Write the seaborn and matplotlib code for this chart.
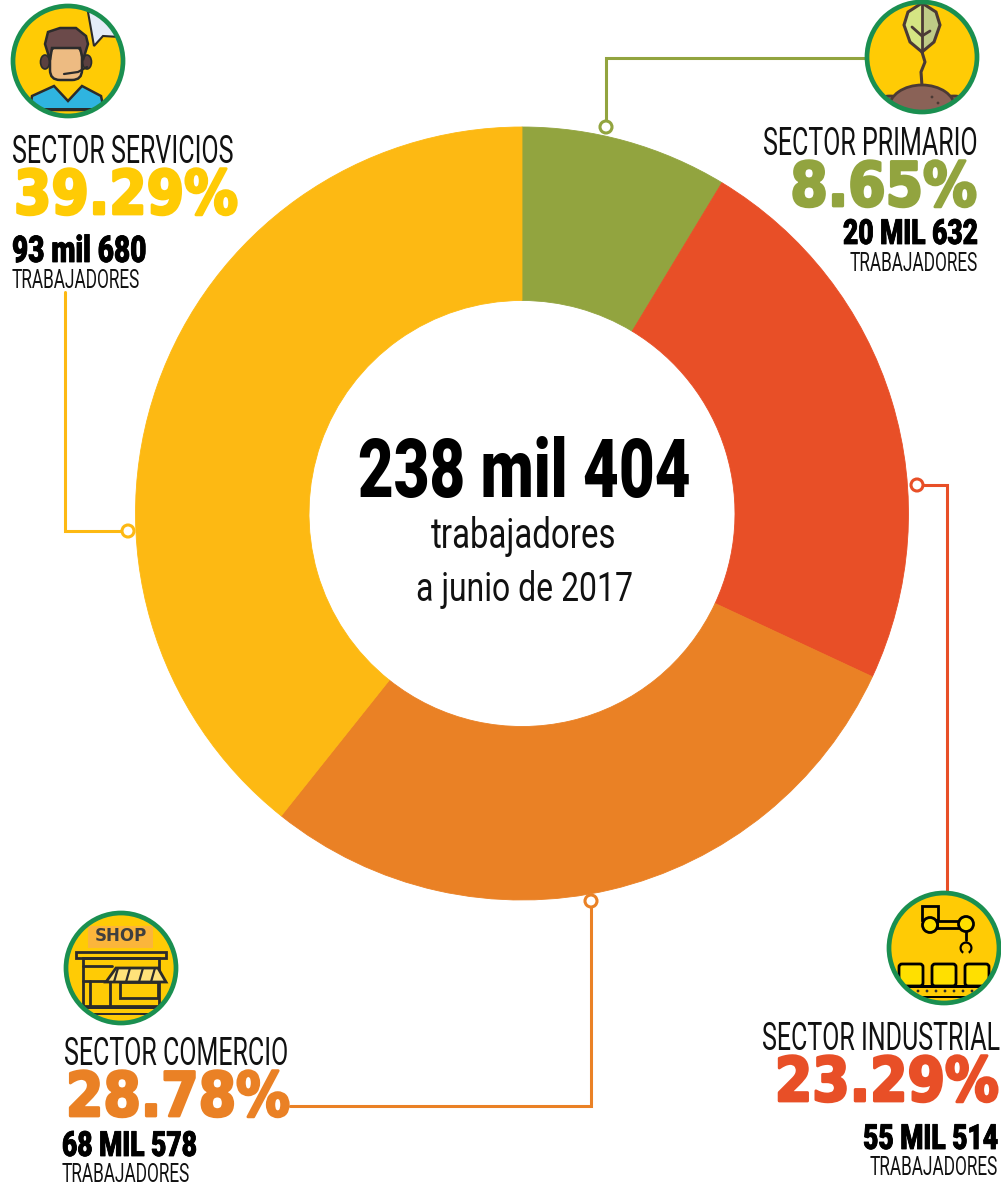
import matplotlib
matplotlib.use("Agg")
import matplotlib.pyplot as plt
import matplotlib.patheffects as pe
from matplotlib import font_manager as fm
from matplotlib.patches import Circle, Polygon, Rectangle, Ellipse, Wedge, FancyBboxPatch
from fontTools.ttLib import TTFont
import seaborn as sns

# datos
sectores = ["SECTOR PRIMARIO", "SECTOR INDUSTRIAL", "SECTOR COMERCIO", "SECTOR SERVICIOS"]
trabajadores = [20632, 55514, 68578, 93680]
porcentajes = ["8.65%", "23.29%", "28.78%", "39.29%"]
cantidades = ["20 MIL 632", "55 MIL 514", "68 MIL 578", "93 mil 680"]
colores = ["#92A43F", "#E84F27", "#EA8125", "#FDB913"]
colores_pct = ["#92A43F", "#E84F27", "#EA8125", "#FFCB05"]
total = "238 mil 404"

sns.set_theme(style="white")


# no hay fuente condensada instalada: se angosta una copia local
def angosta(familia, peso, factor, nombre):
    ruta = fm.findfont(fm.FontProperties(family=familia, weight=peso))
    font = TTFont(ruta)
    glyf = font["glyf"]
    for g in glyf.keys():
        glifo = glyf[g]
        if glifo.isComposite():
            for comp in glifo.components:
                comp.x = int(comp.x * factor)
        elif glifo.numberOfContours > 0:
            glifo.coordinates.scale((factor, 1))
            glifo.coordinates.toInt()
            glifo.removeHinting()
    hmtx = font["hmtx"]
    for g, (adv, lsb) in list(hmtx.metrics.items()):
        hmtx.metrics[g] = (int(adv * factor), int(lsb * factor))
    for tabla in ["kern", "GPOS", "GSUB", "fpgm", "prep", "cvt ", "hdmx", "VDMX", "LTSH", "fvar", "gvar", "HVAR", "STAT", "avar"]:
        if tabla in font:
            del font[tabla]
    for rec in font["name"].names:
        if rec.nameID in (1, 4, 6, 16):
            rec.string = nombre
        elif rec.nameID in (2, 17):
            rec.string = "Regular"
    archivo = nombre + ".ttf"
    font.save(archivo)
    fm.fontManager.addfont(archivo)
    return nombre


F_FINA = angosta("Roboto", "normal", 0.655, "AngostaFina")
F_MEDIA = angosta("Roboto", "normal", 0.78, "AngostaMedia")
F_NEGRA = angosta("Roboto", "black", 0.76, "AngostaNegra")
F_PCT = angosta("DejaVu Sans", "bold", 0.88, "AngostaPct")

W, H = 1001, 1185
fig = plt.figure(figsize=(W / 100, H / 100), dpi=100, facecolor="white")

# dona
cx, cy, R, r = 522, 513.5, 386.5, 213
ax = fig.add_axes([(cx - R) / W, 1 - (cy + R) / H, 2 * R / W, 2 * R / H])
cunas, _ = ax.pie(trabajadores, colors=sns.color_palette(colores), startangle=90, counterclock=False,
                  radius=1, wedgeprops={"width": (R - r) / R, "linewidth": 0.6})
for cuna, color in zip(cunas, colores):
    cuna.set_edgecolor(color)
ax.set_xlim(-1, 1)
ax.set_ylim(-1, 1)

# capa en pixeles para textos, lineas e iconos
ov = fig.add_axes([0, 0, 1, 1])
ov.set_xlim(0, W)
ov.set_ylim(H, 0)
ov.axis("off")
ov.patch.set_alpha(0)


def conector(xs, ys, color):
    ov.plot(xs, ys, color=color, lw=2.2, solid_joinstyle="miter", zorder=2)
    ov.add_patch(Circle((xs[0], ys[0]), 6, fc="white", ec=color, lw=2.2, zorder=3))


conector([606, 606, 870], [127, 58, 58], colores[0])
conector([917, 947, 947], [485, 485, 895], colores[1])
conector([591, 591, 290], [901, 1106, 1106], colores[2])
conector([128, 65, 65], [531, 531, 292], colores[3])


def bloque(i, x_sec, x_pct, x_cant, ha, y_sector, y_pct, y_cant, y_trab, fs_cant=25):
    ov.text(x_sec, y_sector, sectores[i], family=F_FINA, fontsize=27.5, ha=ha, va="baseline", color="#111111")
    ov.text(x_pct, y_pct, porcentajes[i], family=F_PCT, fontsize=44, ha=ha, va="baseline",
            color=colores_pct[i], path_effects=[pe.withStroke(linewidth=2, foreground=colores_pct[i])])
    ov.text(x_cant, y_cant, cantidades[i], family=F_NEGRA, fontsize=fs_cant, ha=ha, va="baseline", color="black",
            path_effects=[pe.withStroke(linewidth=0.6, foreground="black")])
    ov.text(x_cant, y_trab, "TRABAJADORES", family=F_FINA, fontsize=19, ha=ha, va="baseline", color="#111111")


bloque(3, 12, 14, 12, "left", 163, 214, 262, 288, fs_cant=26.5)
bloque(0, 978, 977, 978, "right", 155, 206, 244, 271)
bloque(2, 64, 66, 62, "left", 1065, 1116, 1156, 1182)
bloque(1, 1000, 999, 998, "right", 1050, 1101, 1149, 1175)

# centro
ov.text(cx + 2, 497, total, family=F_NEGRA, fontsize=58.5, ha="center", va="baseline", color="black")
ov.text(cx + 2, 548, "trabajadores", family=F_MEDIA, fontsize=30.5, ha="center", va="baseline", color="#111111")
ov.text(cx + 2, 601, "a junio de 2017", family=F_MEDIA, fontsize=29.5, ha="center", va="baseline", color="#111111")


def icono(x, y):
    fondo = Circle((x, y), 55, fc="#FFCB05", ec="none", zorder=4)
    ov.add_patch(fondo)
    return fondo


def borde(x, y):
    ov.add_patch(Circle((x, y), 55, fc="none", ec="#1A8F50", lw=3.4, zorder=8))


def poner(fondo, p, z=5):
    p.set_zorder(z)
    ov.add_patch(p)
    p.set_clip_path(fondo)


OSC = "#2B2B2B"

# servicios
x, y = 68, 61
f = icono(x, y)
poner(f, Polygon([[88, 12], [120, 12], [120, 37], [103, 36], [94, 46]], fc="#E4ECF7", ec=OSC, lw=1.5))
poner(f, Polygon([[30, 110], [32, 96], [54, 86], [68, 101], [82, 86], [101, 96], [104, 110]], fc="#2FB4E0", ec=OSC, lw=1.8))
poner(f, Rectangle((30, 108), 76, 3, fc=OSC, ec="none"), 6)
poner(f, Ellipse((45, 62), 9, 14, fc="#5B4040", ec=OSC, lw=1.2))
poner(f, Ellipse((87, 62), 9, 14, fc="#5B4040", ec=OSC, lw=1.2))
poner(f, FancyBboxPatch((52, 48), 28, 30, boxstyle="round,pad=2,rounding_size=10", fc="#EDBB82", ec=OSC, lw=1.8))
poner(f, Polygon([[50, 60], [45, 44], [48, 32], [60, 28], [76, 28], [86, 36], [88, 44], [83, 60], [80, 48], [52, 48]], fc="#6B4A4A", ec=OSC, lw=1.8), 6)
ov.plot([64, 78, 87], [74, 72, 67], color=OSC, lw=1.6, zorder=7)
borde(x, y)

# primario
x, y = 922, 57
f = icono(x, y)
poner(f, Polygon([[922, 3], [936, 12], [940, 25], [934, 42], [922, 52]], fc="#BFCB87", ec="none"))
poner(f, Polygon([[922, 3], [908, 12], [904, 25], [910, 42], [922, 52]], fc="#D5E583", ec="none"))
poner(f, Polygon([[922, 3], [936, 12], [940, 25], [934, 42], [922, 52], [910, 42], [904, 25], [908, 12]],
                 fc="none", ec="#4B3A35", lw=2.2), 6)
ov.plot([922, 922], [5, 52], color="#4B3A35", lw=2, zorder=6)
ov.plot([912, 922, 930], [27, 36, 31], color="#4B3A35", lw=2, zorder=6)
ov.plot([922, 925, 921, 922], [52, 62, 72, 86], color="#4B3A35", lw=2.2, zorder=6)
poner(f, Ellipse((890, 112), 44, 32, fc="#8A6257", ec="#4B3A35", lw=2))
poner(f, Ellipse((954, 112), 44, 32, fc="#8A6257", ec="#4B3A35", lw=2))
poner(f, Ellipse((922, 108), 66, 46, fc="#8A6257", ec="#4B3A35", lw=2), 6)
poner(f, Rectangle((880, 102), 84, 12, fc="#8A6257", ec="none"), 7)
poner(f, Circle((932, 97), 1.4, fc="#4B3A35", ec="none"), 8)
poner(f, Circle((938, 103), 1.4, fc="#4B3A35", ec="none"), 8)
borde(x, y)

# comercio
x, y = 121, 968
f = icono(x, y)
poner(f, Rectangle((88, 926), 65, 22, fc="#FBB53B", ec="none"))
ov.text(121, 936, "SHOP", family="DejaVu Sans", fontweight="bold", fontsize=12, ha="center", va="center",
        color="#3F3F3F", zorder=6)
poner(f, Rectangle((76, 952), 90, 6, fc="none", ec=OSC, lw=2), 6)
poner(f, Rectangle((83, 958), 76, 48, fc="none", ec=OSC, lw=2), 6)
ov.plot([83, 112], [966, 966], color=OSC, lw=2, zorder=6)
ov.plot([83, 110], [981, 981], color=OSC, lw=2, zorder=6)
ov.plot([90, 90], [981, 1006], color=OSC, lw=2, zorder=6)
ov.plot([110, 110], [981, 1006], color=OSC, lw=2, zorder=6)
poner(f, Rectangle((120, 982), 38, 16, fc="none", ec=OSC, lw=2), 6)
poner(f, Polygon([[106, 982], [116, 968], [158, 968], [166, 982]], fc="#FFE27A", ec=OSC, lw=2), 7)
for xb in [118, 130, 143, 155]:
    ov.plot([xb - 4, xb], [982, 968], color=OSC, lw=1.6, zorder=7)
poner(f, Rectangle((78, 1006), 86, 3, fc=OSC, ec="none"), 6)
poner(f, Rectangle((78, 1013), 86, 2, fc=OSC, ec="none"), 6)
borde(x, y)

# industrial
x, y = 944, 948
f = icono(x, y)
poner(f, Rectangle((922, 906), 16, 14, fc="none", ec="black", lw=2), 6)
poner(f, Circle((930, 925), 7.5, fc="#FFE000", ec="black", lw=2), 7)
poner(f, Circle((966, 924), 7.5, fc="#FFE000", ec="black", lw=2), 7)
poner(f, Rectangle((937, 921), 22, 7, fc="none", ec="black", lw=2), 6)
ov.plot([966, 966], [932, 940], color="black", lw=2, zorder=6)
poner(f, Wedge((966, 948), 6.5, 120, 60, width=2.2, fc="black", ec="none"), 6)
for xb in [900, 933, 966]:
    poner(f, FancyBboxPatch((xb, 965), 22, 20, boxstyle="round,pad=1,rounding_size=3", fc="#FFE000", ec="black", lw=2), 6)
poner(f, Rectangle((889, 985), 110, 2.5, fc="black", ec="none"), 7)
for xb in range(918, 976, 9):
    poner(f, Circle((xb, 991), 1.4, fc=OSC, ec="none"), 7)
poner(f, Rectangle((889, 996), 110, 2, fc="black", ec="none"), 7)
borde(x, y)

fig.savefig("out.png", dpi=100, facecolor="white")
